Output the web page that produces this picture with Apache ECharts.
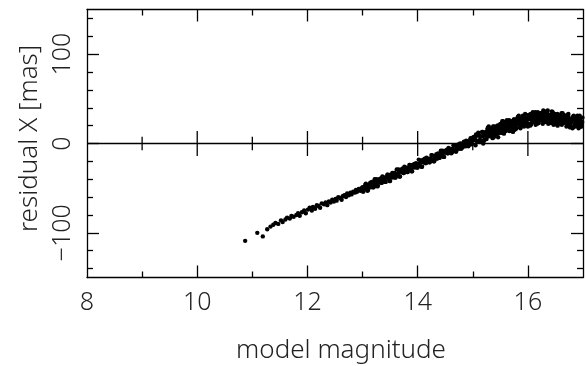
<!DOCTYPE html>
<html><head><meta charset="utf-8">
<script src="https://cdn.jsdelivr.net/npm/echarts@6/dist/echarts.min.js"></script>
<style>html,body{margin:0;padding:0;background:#fff}#c{width:586px;height:366px}</style>
</head><body><div id="c"></div>
<script>
// ---- axes / ticks ----
const xRange = [8, 17];
const yRange = [-150, 150];
const xTickLabels = [8, 10, 12, 14, 16];
const xMajorTicks = [10, 12, 14, 16];
const xMinorTicks = [9, 11, 13, 15];
const yTickLabels = [-100, 0, 100];
const yMajorTicks = [-100, 0, 100];
const yMinorTicks = [-140, -120, -80, -60, -40, -20, 20, 40, 60, 80, 120, 140];
const xTitle = 'model magnitude';
const yTitle = 'residual X [mas]';

// ---- data: [model magnitude, residual X (mas)] ----
const brightStars = [
[10.87,-109],[11.09,-100],[11.19,-104],[11.27,-96],[11.33,-93],[11.38,-91],[11.42,-89],[11.47,-90],[11.52,-86],[11.55,-88],
[11.6,-85],[11.63,-83],[11.68,-84],[11.71,-81],[11.75,-82],[11.8,-80],[11.83,-78],[11.86,-81],[11.9,-77],[11.94,-75],
[11.97,-78],[12.01,-74],[12.04,-72],[12.08,-75],[12.1,-71],[12.14,-73],[12.17,-69],[12.2,-70],[12.23,-72],[12.26,-67],
[12.3,-68],[12.33,-66],[12.36,-69],[12.39,-65],[12.42,-66],[12.45,-63],[12.48,-65],[12.51,-62],[12.53,-64],[12.56,-60],
[12.59,-61],[12.62,-63],[12.64,-59],[12.67,-58],[12.7,-60],[12.72,-56],[12.75,-58],[12.78,-55],[12.8,-57],[12.83,-54],
[12.86,-55],[12.88,-52],[12.9,-54],[12.93,-51],[12.96,-53],[12.98,-50]
];
const midStarsA = [
[13.00,-49],[13.02,-53],[13.04,-49],[13.06,-45],[13.08,-51],[13.10,-52],[13.12,-48],[13.14,-44],[13.16,-48],[13.18,-44],
[13.20,-49],[13.22,-40],[13.24,-47],[13.26,-43],[13.28,-47],[13.30,-40],[13.32,-42],[13.34,-44],[13.36,-37],[13.38,-42],
[13.40,-38],[13.42,-43],[13.44,-38],[13.46,-35],[13.48,-40],[13.50,-42],[13.52,-37],[13.54,-33],[13.56,-37],[13.58,-33],
[13.60,-38],[13.62,-29],[13.64,-36],[13.66,-32],[13.68,-37],[13.70,-29],[13.72,-32],[13.74,-33],[13.76,-26],[13.78,-31],
[13.80,-27],[13.82,-32],[13.84,-27],[13.86,-24],[13.88,-29],[13.90,-31],[13.92,-26],[13.94,-23],[13.96,-26],[13.98,-23],
[14.00,-27],[14.02,-18],[14.04,-25],[14.06,-21],[14.08,-26],[14.10,-18],[14.12,-21],[14.14,-22],[14.16,-16],[14.18,-20],
[14.20,-17],[14.22,-21],[14.24,-17],[14.26,-13],[14.28,-18],[14.30,-20],[14.32,-15],[14.34,-12],[14.36,-15],[14.38,-12],
[14.40,-16],[14.42,-8],[14.44,-14],[14.46,-11],[14.48,-15],[14.50,-8],[14.52,-10],[14.54,-11],[14.56,-5],[14.58,-9],
[14.60,-6],[14.62,-10],[14.64,-6],[14.66,-2],[14.68,-8],[14.70,-9],[14.72,-5],[14.74,-1],[14.76,-4],[14.78,-1],[14.80,-5]
];
const midStarsB = [
[13.01,-54],[13.03,-49],[13.05,-46],[13.07,-50],[13.09,-53],[13.11,-46],[13.13,-47],[13.15,-49],[13.17,-43],[13.19,-49],
[13.21,-44],[13.23,-46],[13.25,-40],[13.27,-48],[13.29,-41],[13.31,-43],[13.33,-39],[13.35,-44],[13.37,-42],[13.39,-39],
[13.41,-43],[13.43,-38],[13.45,-35],[13.47,-39],[13.49,-42],[13.51,-35],[13.53,-37],[13.55,-38],[13.57,-33],[13.59,-38],
[13.61,-34],[13.63,-35],[13.65,-29],[13.67,-37],[13.69,-30],[13.71,-32],[13.73,-28],[13.75,-33],[13.77,-31],[13.79,-29],
[13.81,-32],[13.83,-28],[13.85,-24],[13.87,-29],[13.89,-31],[13.91,-24],[13.93,-26],[13.95,-27],[13.97,-22],[13.99,-27],
[14.01,-23],[14.03,-24],[14.05,-19],[14.07,-26],[14.09,-20],[14.11,-21],[14.13,-17],[14.15,-22],[14.17,-20],[14.19,-18],
[14.21,-21],[14.23,-17],[14.25,-13],[14.27,-18],[14.29,-20],[14.31,-14],[14.33,-15],[14.35,-17],[14.37,-11],[14.39,-16],
[14.41,-12],[14.43,-13],[14.45,-8],[14.47,-15],[14.49,-9],[14.51,-10],[14.53,-7],[14.55,-11],[14.57,-10],[14.59,-7],
[14.61,-11],[14.63,-6],[14.65,-2],[14.67,-7],[14.69,-9],[14.71,-3],[14.73,-4],[14.75,-6],[14.77,0],[14.79,-6]
];
const faintStars1 = [
[14.81,-2],[14.84,2],[14.87,-3],[14.90,2],[14.93,0],[14.96,6],[14.99,3],[15.02,7],[15.05,-2],[15.08,9],
[15.11,3],[15.14,8],[15.17,13],[15.20,3],[15.23,12],[15.26,8],[15.29,19],[15.32,11],[15.35,17],[15.38,7],
[15.41,18],[15.44,11],[15.47,16],[15.50,22],[15.53,12],[15.56,20],[15.59,16],[15.62,26],[15.65,19],[15.68,25],
[15.71,14],[15.74,25],[15.77,18],[15.80,23],[15.83,29],[15.86,18],[15.89,27],[15.92,22],[15.95,33],[15.98,26],
[16.01,31],[16.04,20],[16.07,31],[16.10,24],[16.13,28],[16.16,34],[16.19,23],[16.22,31],[16.25,27],[16.28,37],
[16.31,29],[16.34,34],[16.37,22],[16.40,32],[16.43,25],[16.46,28],[16.49,33],[16.52,22],[16.55,30],[16.58,24],
[16.61,34],[16.64,26],[16.67,30],[16.70,19],[16.73,29],[16.76,21],[16.79,25],[16.82,30],[16.85,19],[16.88,26],
[16.91,21],[16.94,31],[16.97,22]
];
const faintStars2 = [
[14.82,-4],[14.85,1],[14.88,3],[14.91,0],[14.94,2],[14.97,-1],[15.00,6],[15.03,4],[15.06,10],[15.09,2],
[15.12,9],[15.15,2],[15.18,8],[15.21,4],[15.24,13],[15.27,17],[15.30,10],[15.33,13],[15.36,6],[15.39,18],
[15.42,14],[15.45,20],[15.48,12],[15.51,19],[15.54,12],[15.57,18],[15.60,14],[15.63,22],[15.66,26],[15.69,19],
[15.72,22],[15.75,15],[15.78,26],[15.81,22],[15.84,29],[15.87,20],[15.90,27],[15.93,19],[15.96,26],[15.99,22],
[16.02,30],[16.05,33],[16.08,26],[16.11,29],[16.14,21],[16.17,33],[16.20,28],[16.23,34],[16.26,26],[16.29,32],
[16.32,24],[16.35,30],[16.38,24],[16.41,32],[16.44,35],[16.47,26],[16.50,29],[16.53,21],[16.56,32],[16.59,26],
[16.62,32],[16.65,23],[16.68,28],[16.71,20],[16.74,26],[16.77,20],[16.80,28],[16.83,31],[16.86,23],[16.89,25],
[16.92,17],[16.95,28],[16.98,22]
];
const faintStars3 = [
[14.83,1],[14.86,-2],[14.89,0],[14.92,-3],[14.95,3],[14.98,0],[15.01,7],[15.04,5],[15.07,3],[15.10,12],
[15.13,4],[15.16,8],[15.19,0],[15.22,12],[15.25,5],[15.28,18],[15.31,13],[15.34,10],[15.37,19],[15.40,11],
[15.43,15],[15.46,7],[15.49,19],[15.52,12],[15.55,25],[15.58,19],[15.61,17],[15.64,25],[15.67,17],[15.70,21],
[15.73,13],[15.76,25],[15.79,17],[15.82,30],[15.85,25],[15.88,22],[15.91,31],[15.94,22],[15.97,26],[16.00,19],
[16.03,30],[16.06,22],[16.09,35],[16.12,29],[16.15,26],[16.18,35],[16.21,26],[16.24,29],[16.27,22],[16.30,33],
[16.33,25],[16.36,37],[16.39,30],[16.42,27],[16.45,35],[16.48,25],[16.51,28],[16.54,20],[16.57,31],[16.60,22],
[16.63,34],[16.66,28],[16.69,24],[16.72,32],[16.75,23],[16.78,25],[16.81,17],[16.84,28],[16.87,20],[16.90,31],
[16.93,25],[16.96,22],[16.99,29]
];
const faintStars4 = [
[14.815,-2],[14.845,1],[14.875,-2],[14.905,2],[14.935,-1],[14.965,5],[14.995,4],[15.025,4],[15.055,9],[15.085,2],
[15.115,9],[15.145,2],[15.175,13],[15.205,9],[15.235,9],[15.265,15],[15.295,8],[15.325,14],[15.355,7],[15.385,19],
[15.415,15],[15.445,14],[15.475,20],[15.505,13],[15.535,20],[15.565,12],[15.595,24],[15.625,19],[15.655,19],[15.685,25],
[15.715,17],[15.745,24],[15.775,16],[15.805,28],[15.835,24],[15.865,23],[15.895,29],[15.925,21],[15.955,28],[15.985,21],
[16.015,32],[16.045,27],[16.075,27],[16.105,32],[16.135,24],[16.165,31],[16.195,23],[16.225,34],[16.255,30],[16.285,29],
[16.315,34],[16.345,26],[16.375,31],[16.405,23],[16.435,34],[16.465,28],[16.495,27],[16.525,32],[16.555,24],[16.585,29],
[16.615,21],[16.645,32],[16.675,26],[16.705,25],[16.735,30],[16.765,21],[16.795,27],[16.825,19],[16.855,30],[16.885,24],
[16.915,23],[16.945,28],[16.975,19]
];
const faintStars5 = [
[15.305,15],[15.335,10],[15.365,18],[15.395,9],[15.425,16],[15.455,12],[15.485,20],[15.515,16],[15.545,24],[15.575,14],
[15.605,19],[15.635,21],[15.665,14],[15.695,24],[15.725,19],[15.755,27],[15.785,17],[15.815,24],[15.845,21],[15.875,28],
[15.905,24],[15.935,31],[15.965,22],[15.995,27],[16.025,29],[16.055,21],[16.085,31],[16.115,26],[16.145,33],[16.175,24],
[16.205,30],[16.235,26],[16.265,34],[16.295,29],[16.325,36],[16.355,26],[16.385,29],[16.415,31],[16.445,23],[16.475,31],
[16.505,26],[16.535,33],[16.565,23],[16.595,28],[16.625,24],[16.655,31],[16.685,25],[16.715,32],[16.745,22],[16.775,25],
[16.805,27],[16.835,19],[16.865,28],[16.895,22],[16.925,29],[16.955,19],[16.985,24]
];
const faintStars6 = [
[15.295,10],[15.325,15],[15.355,10],[15.385,15],[15.415,10],[15.445,20],[15.475,14],[15.505,19],[15.535,25],[15.565,11],
[15.595,18],[15.625,22],[15.655,17],[15.685,22],[15.715,16],[15.745,27],[15.775,20],[15.805,25],[15.835,31],[15.865,17],
[15.895,24],[15.925,28],[15.955,23],[15.985,28],[16.015,22],[16.045,32],[16.075,26],[16.105,30],[16.135,35],[16.165,22],
[16.195,28],[16.225,32],[16.255,27],[16.285,31],[16.315,25],[16.345,35],[16.375,27],[16.405,31],[16.435,36],[16.465,21],
[16.495,27],[16.525,31],[16.555,25],[16.585,28],[16.615,22],[16.645,32],[16.675,24],[16.705,28],[16.735,33],[16.765,18],
[16.795,24],[16.825,28],[16.855,21],[16.885,25],[16.915,19],[16.945,29],[16.975,21]
];

// ---- chart ----
const FONT = "'Noto Sans', 'DejaVu Sans', sans-serif";
const INK = '#000';
const TXT = '#222';
const LW = 1.3;
const rect = { left: 87, right: 3, top: 9.5, bottom: 88.5, outerBoundsMode: 'none' };
const fmtY = v => (v < 0 ? '\u2212' + Math.abs(v) : String(v));
const textStyle = { color: TXT, fontFamily: FONT, fontSize: 25, fontWeight: 300 };
// half-lengths (in data units) of the tick marks that cross the zero line
const zeroTickMinor = 7.5;
const zeroTickMajor = 14;

function xAxisDef(grid, pos, ticks, len, opts) {
  opts = opts || {};
  return {
    type: 'value', gridIndex: grid, position: pos, min: xRange[0], max: xRange[1],
    axisLine: { show: !!opts.line, onZero: false, lineStyle: { color: INK, width: LW } },
    axisTick: { show: true, inside: true, length: len, customValues: ticks, lineStyle: { color: INK, width: LW } },
    axisLabel: opts.labels ? Object.assign({ show: true, customValues: xTickLabels, margin: 13 }, textStyle) : { show: false },
    splitLine: { show: false },
    name: opts.labels ? xTitle : '', nameLocation: 'middle', nameGap: 60,
    nameTextStyle: Object.assign({}, textStyle, { fontSize: 26, padding: [0, 0, 0, 12] })
  };
}
function yAxisDef(grid, pos, ticks, len, opts) {
  opts = opts || {};
  return {
    type: 'value', gridIndex: grid, position: pos, min: yRange[0], max: yRange[1],
    axisLine: { show: !!opts.line, onZero: false, lineStyle: { color: INK, width: LW } },
    axisTick: { show: true, inside: true, length: len, customValues: ticks, lineStyle: { color: INK, width: LW } },
    axisLabel: opts.labels ? Object.assign({ show: true, customValues: yTickLabels, rotate: 90, formatter: fmtY, margin: 12 }, textStyle) : { show: false },
    splitLine: { show: false },
    name: opts.labels ? yTitle : '', nameLocation: 'middle', nameGap: 30,
    nameTextStyle: Object.assign({}, textStyle, { fontSize: 26, padding: [0, 0, 0, 10] })
  };
}

// zero line (through the y scale) and the tick marks that cross it
const zeroTickSeries = xMinorTicks.map(v => [v, zeroTickMinor])
  .concat(xMajorTicks.map(v => [v, zeroTickMajor]))
  .map(([v, h]) => ({
    type: 'line', xAxisIndex: 0, yAxisIndex: 0, silent: true,
    data: [[v, -h], [v, h]], showSymbol: false, symbol: 'none',
    lineStyle: { color: INK, width: LW }, z: 3
  }));

const chart = echarts.init(document.getElementById('c'), null, { renderer: 'canvas' });
chart.setOption({
  animation: false,
  backgroundColor: '#fff',
  grid: [rect, rect],
  xAxis: [
    xAxisDef(0, 'bottom', xMinorTicks, 6, { line: true, labels: true }),
    xAxisDef(0, 'top', xMinorTicks, 6, { line: true }),
    xAxisDef(1, 'bottom', xMajorTicks, 12),
    xAxisDef(1, 'top', xMajorTicks, 12)
  ],
  yAxis: [
    yAxisDef(0, 'left', yMinorTicks, 6, { line: true, labels: true }),
    yAxisDef(0, 'right', yMinorTicks, 6, { line: true }),
    yAxisDef(1, 'left', yMajorTicks, 12),
    yAxisDef(1, 'right', yMajorTicks, 12)
  ],
  series: [{
    type: 'scatter', xAxisIndex: 0, yAxisIndex: 0,
    data: [].concat(brightStars, midStarsA, midStarsB, faintStars1, faintStars2, faintStars3, faintStars4, faintStars5, faintStars6),
    symbol: 'circle', symbolSize: 4.4,
    itemStyle: { color: '#000', opacity: 1 },
    silent: true, clip: true,
    markLine: {
      silent: true, symbol: ['none', 'none'], label: { show: false },
      lineStyle: { color: INK, type: 'solid', width: LW },
      data: [{ yAxis: 0 }]
    }
  }].concat(zeroTickSeries)
});
</script></body></html>
